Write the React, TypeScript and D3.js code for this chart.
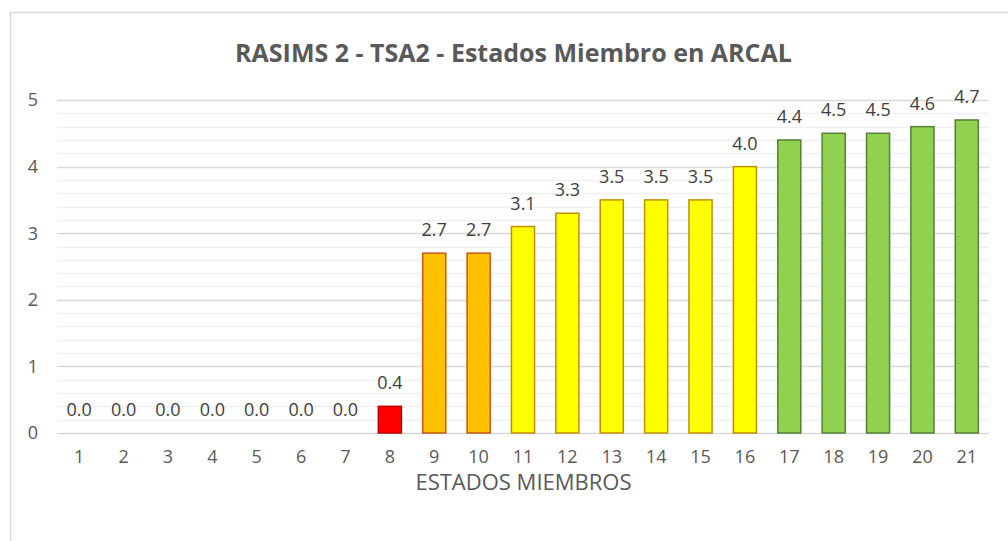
import React from "react";
import * as d3 from "d3";

const categories = ["1","2","3","4","5","6","7","8","9","10","11","12","13","14","15","16","17","18","19","20","21"];
const values = [0,0,0,0,0,0,0,0.4,2.7,2.7,3.1,3.3,3.5,3.5,3.5,4.0,4.4,4.5,4.5,4.6,4.7];
const levels = ["none","none","none","none","none","none","none","red","orange","orange","yellow","yellow","yellow","yellow","yellow","yellow","green","green","green","green","green"];
const yTicks = [0,1,2,3,4,5];
const title = "RASIMS 2 - TSA2 - Estados Miembro en ARCAL";
const xTitle = "ESTADOS MIEMBROS";

const fills: Record<string,string> = { red: "#FF0000", orange: "#FFC000", yellow: "#FFFF00", green: "#92D050", none: "none" };
const strokes: Record<string,string> = { red: "#C00000", orange: "#C55A11", yellow: "#BF9000", green: "#538135", none: "none" };

const FONT = "'Open Sans', sans-serif";

export default function App() {
  const W = 1008, H = 541;
  const left = 57, right = 989, top = 100, bottom = 433;
  const x = d3.scaleBand().domain(categories).range([left, right]).paddingInner(0.48).paddingOuter(0.24);
  const y = d3.scaleLinear().domain([0, 5]).range([bottom, top]);
  const minor = d3.range(0, 5.0001, 0.2).map(v => +v.toFixed(1)).filter(v => !yTicks.includes(v));
  return (
    <svg width={W} height={H} style={{ position: "absolute", left: 0, top: 0, background: "#fff" }} fontFamily={FONT}>
      <rect x={10.5} y={12.5} width={1100} height={600} fill="#fff" stroke="#D9D9D9" strokeWidth={1.5} />
      {minor.map(v => (
        <line key={"m"+v} x1={left} x2={right} y1={Math.round(y(v))+0.5} y2={Math.round(y(v))+0.5} stroke="#F0F0F0" strokeWidth={1.5} />
      ))}
      {yTicks.map(v => (
        <line key={"g"+v} x1={left} x2={right} y1={Math.round(y(v))+0.5} y2={Math.round(y(v))+0.5} stroke="#D9D9D9" strokeWidth={1.5} />
      ))}
      {yTicks.map(v => (
        <text key={"t"+v} x={38} y={y(v)} dy="0.36em" textAnchor="end" fontSize={18} fill="#595959">{v}</text>
      ))}
      {categories.map((c, i) => {
        const v = values[i];
        const lv = levels[i];
        const bx = x(c)!;
        return (
          <g key={c}>
            {v > 0 && (
              <rect x={bx} y={y(v)} width={x.bandwidth()} height={y(0) - y(v)} fill={fills[lv]} stroke={strokes[lv]} strokeWidth={1.5} />
            )}
            <text x={bx + x.bandwidth() / 2} y={y(v) - 17} textAnchor="middle" fontSize={18} fill="#404040">{d3.format(".1f")(v)}</text>
            <text x={bx + x.bandwidth() / 2} y={463} textAnchor="middle" fontSize={18} fill="#595959">{c}</text>
          </g>
        );
      })}
      <text x={513.5} y={62} textAnchor="middle" fontSize={25} fontWeight="bold" fill="#595959">{title}</text>
      <text x={523.5} y={490} textAnchor="middle" fontSize={22} fill="#595959">{xTitle}</text>
    </svg>
  );
}
